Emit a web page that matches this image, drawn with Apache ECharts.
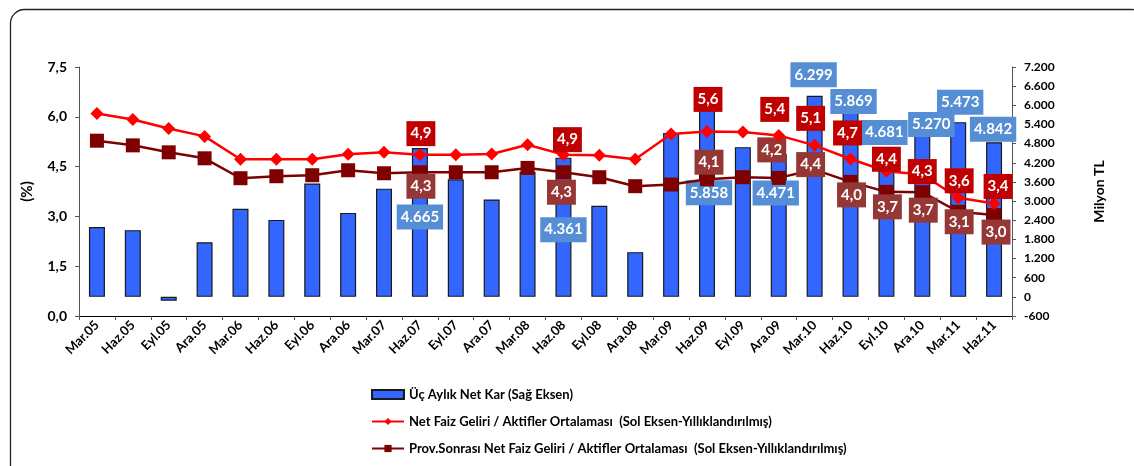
<!DOCTYPE html>
<html>
<head>
<meta charset="utf-8">
<script src="https://cdn.jsdelivr.net/npm/echarts@6/dist/echarts.min.js"></script>
<style>
html,body{margin:0;padding:0;background:#fff;}
#c{width:1134px;height:466px;}
</style>
</head>
<body>
<div id="c"></div>
<script>
const categories = ['Mar.05','Haz.05','Eyl.05','Ara.05','Mar.06','Haz.06','Eyl.06','Ara.06','Mar.07','Haz.07','Eyl.07','Ara.07','Mar.08','Haz.08','Eyl.08','Ara.08','Mar.09','Haz.09','Eyl.09','Ara.09','Mar.10','Haz.10','Eyl.10','Ara.10','Mar.11','Haz.11'];
const netKar = [2190, 2090, -120, 1710, 2760, 2410, 3550, 2630, 3390, 4665, 3680, 3050, 3920, 4361, 2850, 1400, 5135, 5858, 4690, 4471, 6299, 5869, 4681, 5270, 5473, 4842];
const netFaiz = [6.10, 5.92, 5.65, 5.41, 4.72, 4.72, 4.72, 4.87, 4.93, 4.86, 4.86, 4.88, 5.16, 4.86, 4.84, 4.72, 5.48, 5.56, 5.54, 5.44, 5.14, 4.73, 4.36, 4.26, 3.56, 3.39];
const provNetFaiz = [5.28, 5.14, 4.93, 4.75, 4.15, 4.21, 4.24, 4.39, 4.30, 4.33, 4.33, 4.33, 4.46, 4.33, 4.18, 3.91, 3.96, 4.12, 4.18, 4.16, 4.41, 4.04, 3.74, 3.73, 3.14, 3.04];
const leftTicks = {min: 0, max: 7.5, interval: 1.5};
const rightTicks = {min: -600, max: 7200, interval: 600};
const seriesNames = ['Üç Aylık Net Kar (Sağ Eksen)', 'Net Faiz Geliri / Aktifler Ortalaması  (Sol Eksen-Yıllıklandırılmış)', 'Prov.Sonrası Net Faiz Geliri / Aktifler Ortalaması  (Sol Eksen-Yıllıklandırılmış)'];

function fmtThousands(v){ const s = String(Math.abs(Math.round(v))).replace(/\B(?=(\d{3})+(?!\d))/g, '.'); return (v < 0 ? '-' : '') + s; }
function fmtDec(v){ return v.toFixed(1).replace('.', ','); }

// label placement (offsets of label centre from the mark's anchor) for labelled points
const barLabelOffsets = {9:[0,69],13:[0,72],17:[2,83],19:[-3,39],20:[-1,-21],21:[3,-8],22:[-2,-15],23:[9,-4],24:[2,-20],25:[-1,-13]};
const faizLabelOffsets = {9:[1,-21],13:[4,-15],17:[1,-32],19:[-4,-26],20:[-4,-27],21:[-3,-26],22:[0,-12],23:[0,-3],24:[1,-17],25:[4,-17]};
const provLabelOffsets = {9:[1,14],13:[-2,20],17:[2,-17],19:[-7,-28],20:[-4,-5],21:[1,13],22:[1,15],23:[1,18],24:[1,10],25:[2,17]};

const FONT = 'Lato';
function labelStyle(bg, fmt){
  return {
    show: true,
    position: 'inside',
    backgroundColor: bg,
    padding: [4, 4, 4, 4],
    color: '#ffffff',
    fontFamily: FONT,
    fontWeight: 'bold',
    fontSize: 15,
    lineHeight: 17,
    formatter: function(p){ return fmt(p.value); }
  };
}
function buildData(values, offsets, bg, fmt){
  return values.map(function(v, i){
    if (offsets[i]) return {value: v, label: labelStyle(bg, fmt)};
    return {value: v};
  });
}
function makeLayout(offsets, anchorTop){
  return function(p){
    const o = offsets[p.dataIndex];
    if (!o) return {};
    const r = p.rect;
    const ay = anchorTop ? Math.min(r.y, r.y + r.height) : r.y + r.height / 2;
    return {x: r.x + r.width / 2 + o[0], y: ay + o[1], align: 'center', verticalAlign: 'middle', hideOverlap: false};
  };
}

const chart = echarts.init(document.getElementById('c'), null, {renderer: 'canvas'});
const option = {
  backgroundColor: '#ffffff',
  animation: false,
  textStyle: {fontFamily: FONT},
  graphic: [{
    type: 'rect', left: 8, top: 7, silent: true,
    shape: {x: 0, y: 0, width: 1135, height: 470, r: 14},
    style: {fill: 'none', stroke: '#222', lineWidth: 1.3}
  }],
  grid: {left: 79, right: 122, top: 67, bottom: 150, containLabel: false},
  legend: {
    orient: 'vertical', left: 366, top: 383,
    itemWidth: 32, itemHeight: 9, itemGap: 14,
    textStyle: {fontFamily: FONT, fontWeight: 'bold', fontSize: 13, color: '#000'},
    data: [
      {name: seriesNames[0], icon: 'rect'},
      {name: seriesNames[1]},
      {name: seriesNames[2]}
    ]
  },
  xAxis: {
    type: 'category', data: categories,
    axisLine: {show: true, lineStyle: {color: '#000', width: 1}},
    axisTick: {show: true, alignWithLabel: false, length: 4, lineStyle: {color: '#555'}},
    axisLabel: {rotate: 45, interval: 0, margin: 7, color: '#000', fontFamily: FONT, fontWeight: 'bold', fontSize: 13},
    splitLine: {show: false}
  },
  yAxis: [{
    type: 'value', position: 'left',
    min: leftTicks.min, max: leftTicks.max, interval: leftTicks.interval,
    name: '(%)', nameLocation: 'middle', nameGap: 44, nameRotate: 90,
    nameTextStyle: {fontFamily: FONT, fontWeight: 'bold', fontSize: 15, color: '#000'},
    axisLine: {show: true, lineStyle: {color: '#555', width: 1}},
    axisTick: {show: true, length: 4, lineStyle: {color: '#555'}},
    axisLabel: {color: '#000', fontFamily: FONT, fontWeight: 'bold', fontSize: 14, margin: 12, formatter: function(v){ return fmtDec(v); }},
    splitLine: {show: false}
  }, {
    type: 'value', position: 'right',
    min: rightTicks.min, max: rightTicks.max, interval: rightTicks.interval,
    name: 'Milyon TL', nameLocation: 'middle', nameGap: 80, nameRotate: 90,
    nameTextStyle: {fontFamily: FONT, fontWeight: 'bold', fontSize: 14, color: '#000'},
    axisLine: {show: true, lineStyle: {color: '#555', width: 1}},
    axisTick: {show: true, length: 4, lineStyle: {color: '#555'}},
    axisLabel: {color: '#000', fontFamily: FONT, fontWeight: 'bold', fontSize: 12, margin: 12, formatter: function(v){ return fmtThousands(v); }},
    splitLine: {show: false}
  }],
  series: [{
    name: seriesNames[0], type: 'bar', yAxisIndex: 1, barWidth: 16, z: 1,
    itemStyle: {color: '#3366FF', borderColor: '#1a1a1a', borderWidth: 1.2},
    label: {show: false},
    labelLayout: makeLayout(barLabelOffsets, true),
    data: buildData(netKar, barLabelOffsets, '#558ED5', fmtThousands)
  }, {
    name: seriesNames[1], type: 'line', yAxisIndex: 0, z: 3,
    symbol: 'diamond', symbolSize: 13,
    lineStyle: {color: '#FF0000', width: 2.5},
    itemStyle: {color: '#FF0000'},
    label: {show: false},
    labelLayout: makeLayout(faizLabelOffsets, false),
    data: buildData(netFaiz, faizLabelOffsets, '#C00000', fmtDec)
  }, {
    name: seriesNames[2], type: 'line', yAxisIndex: 0, z: 2,
    symbol: 'rect', symbolSize: 14,
    lineStyle: {color: '#7F0000', width: 2.5},
    itemStyle: {color: '#7F0000'},
    label: {show: false},
    labelLayout: makeLayout(provLabelOffsets, false),
    data: buildData(provNetFaiz, provLabelOffsets, '#953735', fmtDec)
  }]
};
chart.setOption(option);
</script>
</body>
</html>
